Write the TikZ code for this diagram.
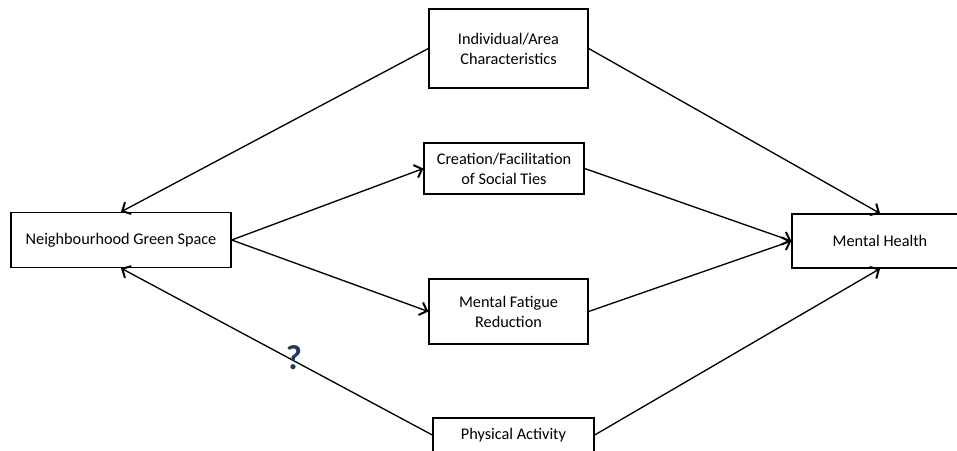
\documentclass[tikz,border=0pt]{standalone}
\usepackage{fontspec}
\setmainfont{Carlito}
\usetikzlibrary{arrows.meta}
\definecolor{qnavy}{HTML}{1F3A60}
\begin{document}
\begin{tikzpicture}[x=0.75pt,y=-0.75pt,
  box/.style={draw,line width=1pt,align=center,inner sep=0pt,font=\fontsize{12.2}{15}\selectfont},
  conn/.style={line width=1pt,-{Straight Barb[length=5pt,width=10pt,line width=1.5pt]}}]
\useasboundingbox (0,0) rectangle (957,450);
\begin{scope}
\clip (0,0) rectangle (957,450);
\node[box,minimum width=220*0.75pt,minimum height=55*0.75pt] (ngs) at (121,240) {Neighbourhood Green Space};
\node[box,minimum width=159*0.75pt,minimum height=79*0.75pt] (ind) at (508.5,48.5) {Individual/Area\\Characteristics};
\node[box,minimum width=160*0.75pt,minimum height=51*0.75pt] (cre) at (504,168.5) {Creation/Facilitation\\of Social Ties};
\node[box,minimum width=159*0.75pt,minimum height=65*0.75pt] (mf) at (508.5,311.5) {Mental Fatigue\\Reduction};
\node[box,minimum width=161*0.75pt,minimum height=34*0.75pt] (pa) at (513.5,435) {Physical Activity};
\node[box,minimum width=176*0.75pt,minimum height=54*0.75pt] (mh) at (880,241) {Mental Health};
\end{scope}
\draw[conn] (ind.west) -- (ngs.north);
\draw[conn] (ind.east) -- (mh.north);
\draw[conn] (ngs.east) -- (cre.west);
\draw[conn] (ngs.east) -- (mf.west);
\draw[conn] (cre.east) -- (mh.west);
\draw[conn] (mf.east) -- (mh.west);
\draw[conn] (pa.west) -- (ngs.south);
\draw[conn] (pa.east) -- (mh.south);
\node[font=\bfseries\fontsize{26}{28}\selectfont,text=qnavy,inner sep=0pt] (q) at (294,358) {?};
\end{tikzpicture}
\end{document}
